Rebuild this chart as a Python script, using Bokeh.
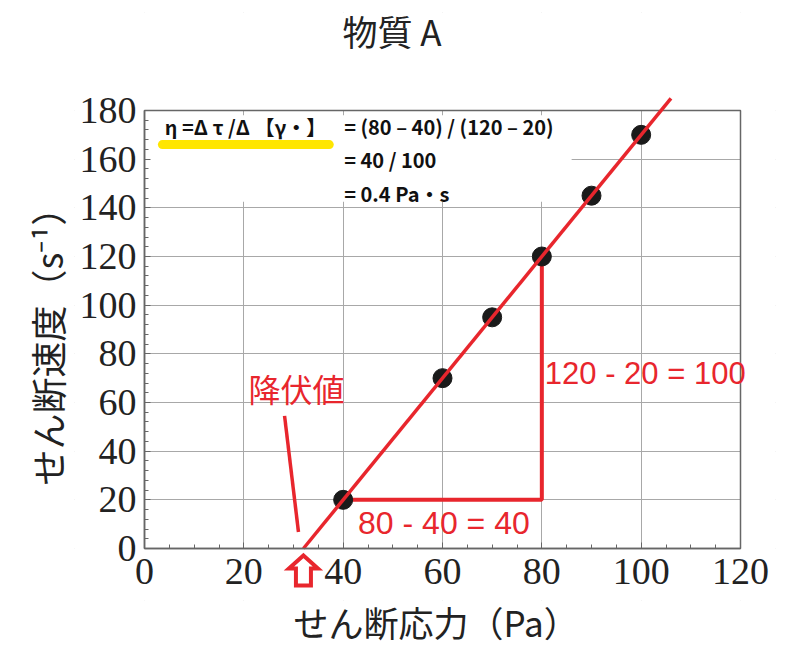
import numpy as np
from bokeh.plotting import figure
from bokeh.models import Range1d, FixedTicker, Label, Title
from bokeh.embed import file_html
from bokeh.resources import INLINE

# ---- data ----
shear_stress = [40, 60, 70, 80, 90, 100]      # Pa
shear_rate = [20, 70, 95, 120, 145, 170]      # 1/s
x_ticks = [0, 20, 40, 60, 80, 100, 120]
y_ticks = [0, 20, 40, 60, 80, 100, 120, 140, 160, 180]
x_minor = list(range(0, 121, 5))
y_minor = list(range(0, 181, 4))

title_text = "物質 A"
x_label = "せん断応力（Pa）"
y_label = "せん断速度（s⁻¹）"
formula_head = "η =Δ τ /Δ 【γ・】"
formula_lines = ["= (80 – 40) / (120 – 20)", "= 40 / 100", "= 0.4 Pa・s"]
dx_text = "80 - 40 = 40"
dy_text = "120 - 20 = 100"
yield_text = "降伏値"

X_MAX, Y_MAX = 120, 180

# ---- layout (pixels) ----
PXX = 596 / 120          # px per Pa
PXY = 438 / 180          # px per 1/s
X_LO = -70 / PXX         # frame extends left of the data box (tick labels)
X_HI = 631 / PXX         # and right of it
Y_LO = -52 / PXY         # below (arrow / tick labels)
Y_HI = 536 / PXY         # above (title, line overshoot)
PAD = 10                 # strip overhang so no grid end peeks out

# triangle corners picked from the data
p1 = (shear_stress[0], shear_rate[0])
p2 = (shear_stress[3], shear_rate[3])

# fitted line
slope, intercept = np.polyfit(shear_stress, shear_rate, 1)
yield_value = float(np.round(-intercept / slope, 6))
line_x_end = 106.0
line_y_end = slope * line_x_end + intercept

RED = "#e8262d"
GREY = "#666666"

p = figure(width=777, height=658, x_range=Range1d(X_LO, X_HI), y_range=Range1d(Y_LO, Y_HI),
           output_backend="svg", toolbar_location=None,
           min_border_left=74, min_border_right=2, min_border_top=12, min_border_bottom=58)
p.title.text = ""
p.outline_line_color = None
p.background_fill_color = "white"
p.border_fill_color = "white"

for ax, ticks, minor, bnd in ((p.xaxis[0], x_ticks, x_minor, (0, X_MAX)),
                              (p.yaxis[0], y_ticks, y_minor, (0, Y_MAX))):
    ax.ticker = FixedTicker(ticks=ticks, minor_ticks=minor)
    ax.bounds = bnd
    ax.fixed_location = 0
    ax.axis_line_color = GREY
    ax.axis_line_width = 1.5
    ax.major_tick_in = 6
    ax.major_tick_out = 0
    ax.minor_tick_in = 4
    ax.minor_tick_out = 0
    ax.major_tick_line_color = GREY
    ax.minor_tick_line_color = GREY
    ax.major_label_text_font = "Liberation Serif"
    ax.major_label_text_font_size = "38px"
    ax.major_label_text_color = "#222222"

p.xaxis.major_label_standoff = 10
p.yaxis.major_label_standoff = 8

# axis titles in the side panels
p.add_layout(Title(text=x_label, align="left", offset=219, vertical_align="top", standoff=-10,
                   text_font="Noto Sans CJK JP", text_font_size="35px", text_font_style="normal",
                   text_color="#222222"), "below")
p.add_layout(Title(text=y_label, align="left", offset=115, vertical_align="bottom", standoff=4,
                   text_font="Noto Sans CJK JP", text_font_size="36px", text_font_style="normal",
                   text_color="#222222"), "left")

p.grid.grid_line_color = "#a8a8a8"
p.grid.grid_line_width = 1
p.xgrid.ticker = FixedTicker(ticks=x_ticks)
p.ygrid.ticker = FixedTicker(ticks=y_ticks)

# white strips hiding grid outside the data box
p.quad(left=[X_LO - PAD, X_MAX, X_LO - PAD, X_LO - PAD],
       right=[X_HI + PAD, X_HI + PAD, X_HI + PAD, 0],
       bottom=[Y_MAX, Y_LO - PAD, Y_LO - PAD, Y_LO - PAD],
       top=[Y_HI + PAD, Y_HI + PAD, 0, Y_HI + PAD],
       fill_color="white", line_color=None)
# white box behind formula
p.quad(left=1, right=86, bottom=142.5, top=178, fill_color="white", line_color=None)
# data box outline
p.quad(left=0, right=X_MAX, bottom=0, top=Y_MAX, fill_color=None, line_color=GREY, line_width=1.5)

# yellow highlight
p.line(x=[3.6, 37.2], y=[166, 166], line_width=9, line_cap="round", color="#ffe600")

# triangle
p.line(x=[p1[0], p2[0], p2[0]], y=[p1[1], p1[1], p2[1]], line_width=4, color=RED)

# points
p.scatter(shear_stress, shear_rate, size=19, color="#1a1a1a")

# fitted line
p.line(x=[yield_value, line_x_end], y=[0, line_y_end], line_width=3.5, color=RED)

# pointer line to yield value
p.line(x=[28.2, 31.0], y=[54.5, 6.8], line_width=3.5, color=RED)

# hollow up-arrow under the axis at the yield value
xv = yield_value
hw, sw = 14.5 / PXX, 7.5 / PXX
y_tip, y_head, y_bot = -7 / PXY, -20 / PXY, -37 / PXY
p.patch(x=[xv, xv + hw, xv + sw, xv + sw, xv - sw, xv - sw, xv - hw],
        y=[y_tip, y_head, y_head, y_bot, y_bot, y_head, y_head],
        fill_color="white", line_color=RED, line_width=4, line_join="miter")

# title
p.add_layout(Label(x=(342 - 144) / PXX, y=(548 - 30) / PXY, text=title_text, text_baseline="middle",
                   text_font="Noto Sans CJK JP", text_font_size="35px", text_color="#222222"))

# red texts
p.add_layout(Label(x=30.6, y=66, text=yield_text, text_align="center", text_baseline="middle",
                   text_font="Noto Sans CJK JP", text_font_size="32px", text_color=RED))
p.add_layout(Label(x=43.0, y=10.3, text=dx_text, text_baseline="middle",
                   text_font="Liberation Sans", text_font_size="32px", text_color=RED))
p.add_layout(Label(x=80.6, y=72, text=dy_text, text_baseline="middle",
                   text_font="Liberation Sans", text_font_size="31px", text_color=RED))

# formula texts
p.add_layout(Label(x=4.1, y=173.3, text=formula_head, text_baseline="middle",
                   text_font="Noto Sans CJK JP", text_font_size="20px", text_font_style="bold",
                   text_color="#111111"))
for txt, yy in zip(formula_lines, [173.3, 159.7, 145.7]):
    p.add_layout(Label(x=40.2, y=yy, text=txt, text_baseline="middle",
                       text_font="Noto Sans CJK JP", text_font_size="20px", text_font_style="bold",
                       text_color="#111111"))

open("out.html", "w").write(file_html(p, INLINE))
